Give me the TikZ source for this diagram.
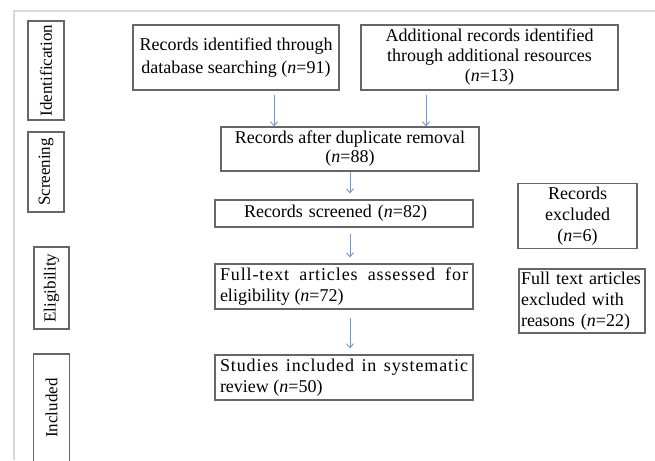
\documentclass[tikz,border=0pt]{standalone}
\usepackage{fontspec}
\setmainfont{Liberation Serif}
\usetikzlibrary{arrows.meta,calc}
\definecolor{arrowblue}{RGB}{110,152,212}
\begin{document}
\begin{tikzpicture}[x=1pt,y=-1pt,
  every node/.style={font=\fontsize{18}{21}\selectfont},
  box/.style={draw=black!60, line width=1.3pt, rectangle, inner sep=3pt},
  side/.style={draw=black!60, line width=1.3pt, rectangle, inner sep=0pt, rotate=90, font=\fontsize{17}{20}\selectfont},
  arr/.style={draw=arrowblue, line width=0.9pt, -{Straight Barb[length=4pt,width=7pt]}},
  frameline/.style={draw=black!15, line width=1.2pt}]
\useasboundingbox (0,0) rectangle (655,460);
% frame lines
\coordinate (ftl) at (14,11);
\coordinate (ftr) at (655,11);
\coordinate (fbl) at (14,460);
\draw[frameline] (ftr) -- (ftl) -- (fbl);
% side labels
\node[side, minimum width=99pt, minimum height=36pt] (sid) at (46,70.5) {Identification};
\node[side, minimum width=80pt, minimum height=36pt] (ssc) at (46,172) {Screening};
\node[side, minimum width=82pt, minimum height=35pt] (sel) at (51.5,288) {Eligibility};
\coordinate (inc1) at (33.5,462);
\coordinate (inc2) at (33.5,354);
\coordinate (inc3) at (69.5,354);
\coordinate (inc4) at (69.5,462);
\draw[draw=black!60, line width=1.3pt] (inc1) -- (inc2) -- (inc3) -- (inc4);
\node[rotate=90, inner sep=0pt, font=\fontsize{17}{20}\selectfont] (sin) at (51.5,408) {Included};
% main boxes
\node[box, minimum width=206pt, minimum height=65pt, align=center, font=\fontsize{18}{23}\selectfont] (b1) at (236,57.5)
  {Records identified through\\database searching (\textit{n}=91)};
\node[box, minimum width=257pt, minimum height=65pt, align=center, font=\fontsize{18}{20}\selectfont] (b2) at (489.5,57.5)
  {Additional records identified\\through additional resources\\(\textit{n}=13)};
\node[box, minimum width=258pt, minimum height=44pt, align=center, font=\fontsize{18}{19}\selectfont] (b3) at (350,149)
  {Records after duplicate removal\\(\textit{n}=88)};
\node[box, minimum width=258pt, minimum height=27pt, text width=250pt, align=left] (b4) at (344,213.5)
  {\hspace*{25pt}Records screened (\textit{n}=82)};
\node[box, minimum width=258pt, minimum height=45pt, text width=248pt, align=justify] (b5) at (344,286.5)
  {{\addfontfeature{LetterSpace=5}Full-text articles assessed for}\linebreak eligibility (\textit{n}=72)};
\node[box, minimum width=258pt, minimum height=45pt, text width=248pt, align=justify] (b6) at (344,377.5)
  {{\addfontfeature{LetterSpace=5}Studies included in systematic}\linebreak review (\textit{n}=50)};
\node[box, minimum width=119pt, minimum height=64pt, align=center] (rex) at (577.5,216)
  {Records\\excluded\\(\textit{n}=6)};
\node[box, minimum width=126pt, minimum height=64pt, text width=122pt, align=left, inner sep=2pt] (fex) at (582,301)
  {Full text articles\\excluded with\\reasons (\textit{n}=22)};
% arrows
\coordinate (ax1) at (274,0);
\coordinate (ax2) at (426,0);
\draw[arr, shorten <=4pt] (b1.south -| ax1) -- (b3.north -| ax1);
\draw[arr, shorten <=4pt] (b2.south -| ax2) -- (b3.north -| ax2);
\draw[arr, shorten >=6pt] (b3.south) -- (b4.north -| b3.south);
\draw[arr, shorten <=6pt, shorten >=6pt] (b4.south -| b3.south) -- (b5.north -| b3.south);
\draw[arr, shorten <=8pt, shorten >=6pt] (b5.south -| b3.south) -- (b6.north -| b3.south);
\end{tikzpicture}
\end{document}
